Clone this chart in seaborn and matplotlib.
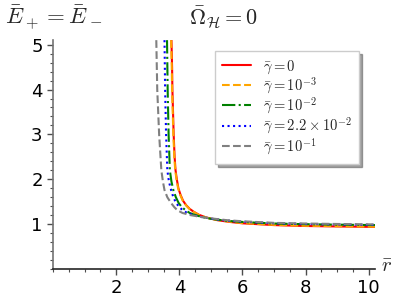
import matplotlib
matplotlib.use("Agg")
import matplotlib.pyplot as plt
import seaborn as sns
import pandas as pd
from matplotlib.ticker import MultipleLocator

# curves: (r, E) per gamma value
r_g0 = [3.75, 3.77, 3.78, 3.80, 3.82, 3.85, 3.88, 3.92, 3.97, 4.04, 4.12, 4.22, 4.33, 4.45,
        4.62, 4.85, 5.2, 5.6, 6.0, 7.0, 8.0, 9.0, 10.2]
E_g0 = [5.10, 4.50, 4.00, 3.50, 3.00, 2.50, 2.20, 2.00, 1.80, 1.65, 1.52, 1.42, 1.34, 1.28,
        1.21, 1.15, 1.09, 1.05, 1.02, 0.98, 0.96, 0.95, 0.94]

r_g1 = [3.74, 3.76, 3.77, 3.79, 3.81, 3.84, 3.87, 3.91, 3.96, 4.03, 4.11, 4.21, 4.32, 4.44,
        4.61, 4.84, 5.2, 5.6, 6.0, 7.0, 8.0, 9.0, 10.2]
E_g1 = [5.10, 4.50, 4.00, 3.50, 3.00, 2.50, 2.20, 2.00, 1.80, 1.65, 1.52, 1.42, 1.34, 1.28,
        1.21, 1.15, 1.095, 1.055, 1.025, 0.985, 0.965, 0.955, 0.945]

r_g2 = [3.61, 3.63, 3.66, 3.70, 3.75, 3.81, 3.89, 3.98, 4.08, 4.20, 4.33, 4.52, 4.72,
        5.0, 5.5, 6.0, 7.0, 8.0, 9.0, 10.2]
E_g2 = [5.10, 4.00, 3.00, 2.20, 1.95, 1.76, 1.60, 1.47, 1.38, 1.31, 1.25, 1.20, 1.16,
        1.12, 1.075, 1.05, 1.015, 1.0, 0.99, 0.98]

r_g3 = [3.53, 3.55, 3.58, 3.62, 3.67, 3.74, 3.81, 3.90, 4.00, 4.11, 4.25, 4.45, 4.70,
        5.0, 5.5, 6.0, 7.0, 8.0, 9.0, 10.2]
E_g3 = [5.10, 4.00, 3.00, 2.20, 1.95, 1.76, 1.60, 1.47, 1.38, 1.31, 1.25, 1.20, 1.16,
        1.125, 1.08, 1.055, 1.02, 1.005, 0.995, 0.985]

r_g4 = [3.27, 3.30, 3.36, 3.43, 3.48, 3.53, 3.62, 3.74, 3.84, 3.94, 4.10, 4.37, 4.70,
        5.0, 5.5, 6.0, 7.0, 8.0, 9.0, 10.2]
E_g4 = [5.10, 4.00, 3.00, 2.20, 1.95, 1.76, 1.60, 1.47, 1.38, 1.31, 1.25, 1.20, 1.16,
        1.13, 1.09, 1.065, 1.03, 1.015, 1.005, 0.995]

labels = [r"$\bar{\gamma}=0$", r"$\bar{\gamma}=10^{-3}$", r"$\bar{\gamma}=10^{-2}$",
          r"$\bar{\gamma}=2.2\times10^{-2}$", r"$\bar{\gamma}=10^{-1}$"]
colors = ["red", "orange", "green", "blue", "gray"]
styles = ["-", "--", "-.", ":", "--"]

sns.set_style("white")
plt.rcParams["mathtext.fontset"] = "cm"

fig = plt.figure(figsize=(3.99, 3.02), dpi=100)
ax = fig.add_axes([0.133, 0.109, 0.807, 0.758])

curves = [(r_g0, E_g0), (r_g1, E_g1), (r_g2, E_g2), (r_g3, E_g3), (r_g4, E_g4)]
for (r, E), lab, c, ls in zip(curves, labels, colors, styles):
    df = pd.DataFrame({"r": r, "E": E})
    sns.lineplot(data=df, x="r", y="E", ax=ax, color=c, linestyle=ls,
                 linewidth=1.5, label=lab, sort=False, estimator=None)

ax.set_xlim(0, 10.2)
ax.set_ylim(0, 5.1)
ax.set_xlabel("")
ax.set_ylabel("")

for s in ["top", "right"]:
    ax.spines[s].set_visible(False)
ax.spines["left"].set_position(("data", 0))
ax.spines["bottom"].set_position(("data", 0))
ax.spines["left"].set_color("0.45")
ax.spines["bottom"].set_color("0.15")
ax.spines["left"].set_linewidth(1.2)
ax.spines["bottom"].set_linewidth(1.2)

ax.xaxis.set_minor_locator(MultipleLocator(0.5))
ax.yaxis.set_minor_locator(MultipleLocator(0.2))
ax.set_xticks([2, 4, 6, 8, 10])
ax.set_yticks([1, 2, 3, 4, 5])
ax.tick_params(which="major", direction="out", length=4, width=1, labelsize=13,
               bottom=True, left=True, colors="0.3", labelcolor="black")
ax.tick_params(which="minor", direction="out", length=2, width=0.8,
               bottom=True, left=True, colors="0.3")

fig.text(0.012, 0.99, r"$\bar{E}_+=\bar{E}_-$", fontsize=16.5, ha="left", va="top")
fig.text(0.56, 0.985, r"$\bar{\Omega}_{\mathcal{H}}=0$", fontsize=16, ha="center", va="top")
ax.text(1.02, -0.03, r"$\bar{r}$", transform=ax.transAxes, fontsize=15,
        ha="left", va="bottom")

leg = ax.legend(loc="upper left", bbox_to_anchor=(0.48, 0.985), fontsize=10.5,
                frameon=True, fancybox=False, shadow=True, handlelength=2,
                borderpad=0.5, labelspacing=0.0)
leg.get_frame().set_edgecolor("0.8")

fig.savefig("out.png", dpi=100)
